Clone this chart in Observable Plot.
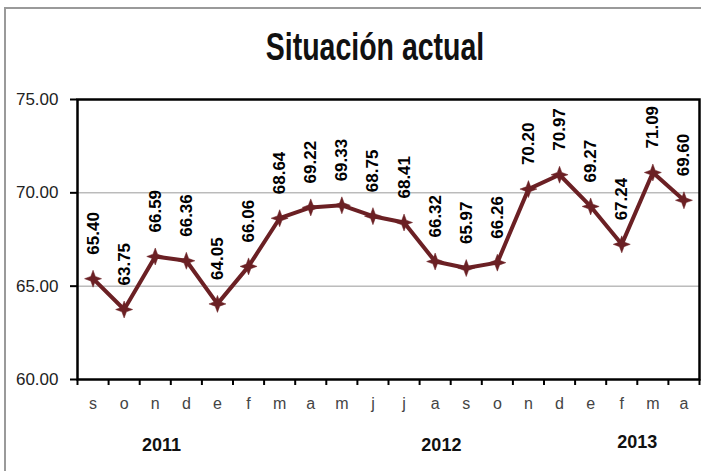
<!DOCTYPE html>
<html>
<head>
<meta charset="utf-8">
<script src="https://cdn.jsdelivr.net/npm/d3@7"></script>
<script src="https://cdn.jsdelivr.net/npm/@observablehq/plot@0.6"></script>
<style>
  html, body { margin: 0; padding: 0; background: #fff; }
  #wrap { position: relative; width: 701px; height: 471px; overflow: hidden; font-family: "Liberation Sans", Arial, sans-serif; }
  #chart { position: absolute; left: 0; top: 0; }
  #border { position: absolute; left: 4px; top: 7px; width: 900px; height: 700px; border-left: 2px solid #9a9a9a; border-top: 2px solid #9a9a9a; pointer-events: none; }
  #title { position: absolute; left: 0; width: 750px; top: 37px; text-align: center; font: bold 28.5px "Liberation Sans", Arial, sans-serif; line-height: 1; color: #111; transform: scaleY(1.33); transform-origin: 50% 100%; }
</style>
</head>
<body>
<div id="wrap">
  <div id="chart"></div>
  <div id="border"></div>
  <div id="title">Situación actual</div>
</div>
<script>
// ---- data ----
const months = ["s","o","n","d","e","f","m","a","m","j","j","a","s","o","n","d","e","f","m","a"];
const values = [65.40, 63.75, 66.59, 66.36, 64.05, 66.06, 68.64, 69.22, 69.33, 68.75, 68.41, 66.32, 65.97, 66.26, 70.20, 70.97, 69.27, 67.24, 71.09, 69.60];
const years = ["2011", "2012", "2013"];
const yearPos = [2.2, 11.2, 17.5];
const yearLift = [0, 0, 3];
const yTicks = [60, 65, 70, 75];
const gridLines = [65, 70];

const idx = months.map((_, i) => i);
const bounds = d3.range(-0.5, months.length, 1);
const data = idx.map(i => ({i, month: months[i], value: values[i]}));
const yearData = years.map((y, k) => ({year: y, pos: yearPos[k], lift: yearLift[k]}));

// four-pointed star marker
const star4 = {
  draw(ctx, size) {
    const r = Math.sqrt(size / Math.PI);
    const ir = r * 0.38;
    for (let k = 0; k < 8; k++) {
      const a = -Math.PI / 2 + k * Math.PI / 4;
      const rr = k % 2 === 0 ? r : ir;
      const px = rr * Math.cos(a), py = rr * Math.sin(a);
      if (k === 0) ctx.moveTo(px, py); else ctx.lineTo(px, py);
    }
    ctx.closePath();
  }
};

const color = "#6b2024";
const font = `"Liberation Sans", Arial, sans-serif`;

const chart = Plot.plot({
  width: 701,
  height: 471,
  marginTop: 99,
  marginBottom: 92,
  marginLeft: 77,
  marginRight: 2,
  style: {fontFamily: font, background: "transparent", overflow: "visible"},
  x: {type: "linear", domain: [-0.5, months.length - 0.5]},
  y: {domain: [60, 75]},
  marks: [
    Plot.ruleY(gridLines, {stroke: "#9a9a9a", strokeWidth: 1}),
    Plot.axisY(yTicks, {tickSize: 7, tickPadding: 12, tickFormat: d3.format(".2f"), fontSize: 17, fill: "#222", strokeWidth: 2, stroke: "#000", label: null}),
    Plot.axisX(bounds, {tickSize: 6, tickFormat: () => "", strokeWidth: 2, stroke: "#000", label: null}),
    Plot.axisX(idx, {tickSize: 0, tickPadding: 18, tickFormat: i => months[i], fontSize: 16, fill: "#444", label: null}),
    Plot.text(yearData.filter(d => d.lift === 0), {x: "pos", text: "year", frameAnchor: "bottom", dy: 71, fontSize: 18, fontWeight: "bold", fill: "#111"}),
    Plot.text(yearData.filter(d => d.lift !== 0), {x: "pos", text: "year", frameAnchor: "bottom", dy: 68, fontSize: 18, fontWeight: "bold", fill: "#111"}),
    Plot.frame({stroke: "#000", strokeWidth: 2.5}),
    Plot.line(data, {x: "i", y: "value", stroke: color, strokeWidth: 4}),
    Plot.dot(data, {x: "i", y: "value", symbol: star4, r: 8.5, fill: color, stroke: color, strokeWidth: 0.5}),
    Plot.text(data, {x: "i", y: "value", text: d => d.value.toFixed(2), rotate: -90, textAnchor: "start", lineAnchor: "middle", dy: -24, fontSize: 17, fontWeight: "bold", fill: "#000"})
  ]
});
document.getElementById("chart").appendChild(chart);
</script>
</body>
</html>
